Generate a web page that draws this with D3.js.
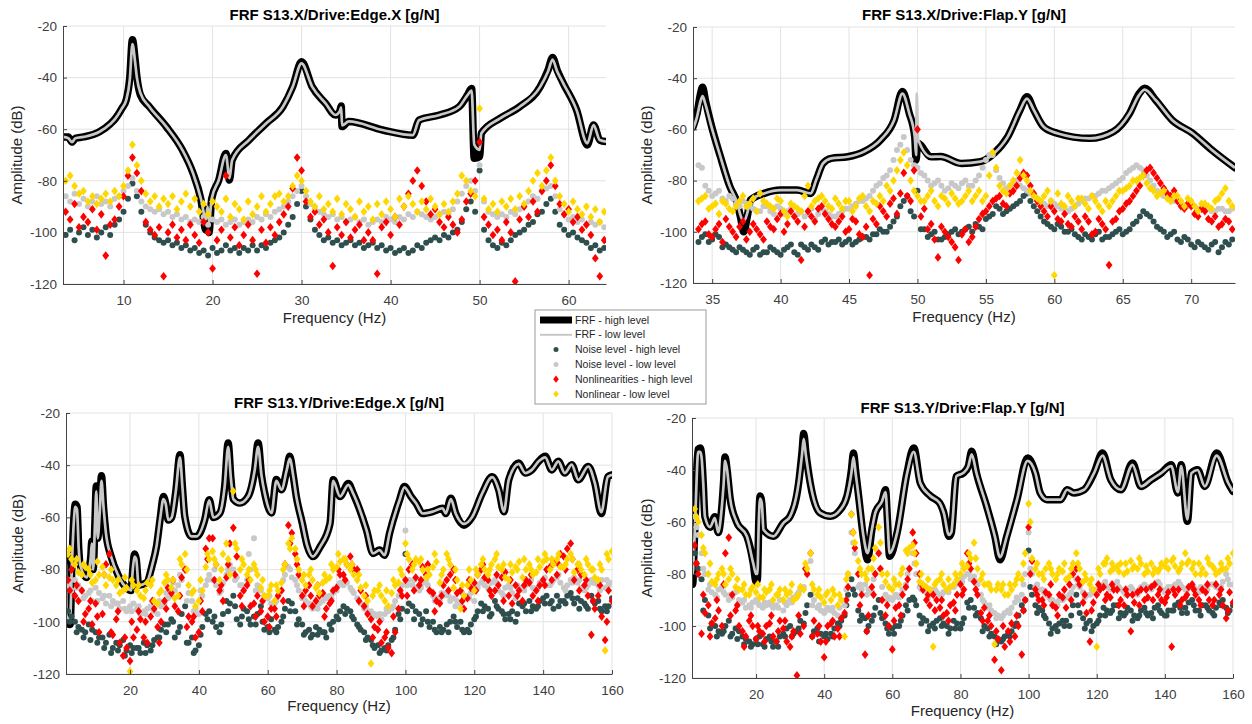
<!DOCTYPE html>
<html lang="en">
<head>
<meta charset="UTF-8">
<title>FRF S13 - noise and nonlinearities</title>
<script src="https://d3js.org/d3.v7.min.js"></script>
<style>
  body { margin: 0; background: #fff; }
  svg text { font-family: "Liberation Sans", Arial, sans-serif; }
</style>
</head>
<body>
<svg id="chart" width="1252" height="724"></svg>
<script>
// ---------------------------------------------
// DATA
// ---------------------------------------------
const titles = [
  "FRF S13.X/Drive:Edge.X [g/N]",
  "FRF S13.X/Drive:Flap.Y [g/N]",
  "FRF S13.Y/Drive:Edge.X [g/N]",
  "FRF S13.Y/Drive:Flap.Y [g/N]"
];
const yTicks = [-120, -100, -80, -60, -40, -20];
const tlTicks = [10, 20, 30, 40, 50, 60];
const trTicks = [35, 40, 45, 50, 55, 60, 65, 70];
const bTicks = [20, 40, 60, 80, 100, 120, 140, 160];

const legendLabels = [
  "FRF - high level", "FRF - low level",
  "Noise level - high level", "Noise level - low level",
  "Nonlinearities - high level", "Nonlinear - low level"
];

// --- top left: S13.X / Edge.X ---
const tlFrfHigh = [[3.2,-63],[3.8,-63],[4.2,-65],[4.6,-63.5],[5.5,-63],[7.3,-61],[8.5,-58],[9.1,-55.8],[9.8,-52],[10.3,-48.7],
  [10.7,-40],[11,-25.3],[11.3,-33],[11.5,-39.7],[11.9,-46.8],[12.9,-51.3],[14.8,-59],[16.6,-68],[17.8,-77],[18.7,-87.4],
  [19.25,-99],[19.45,-91],[19.6,-100],[19.9,-87],[20.7,-79.7],[21.5,-69.4],[21.9,-79.7],[22.2,-72],[24.1,-64.2],[26,-57.8],
  [27.9,-51.3],[29,-43.6],[30,-33.9],[31.2,-43.6],[32.7,-50],[33.8,-54.5],[34.3,-53],[34.45,-51],[34.55,-59],[35.3,-57],
  [39.1,-60.3],[42.5,-62.3],[43.2,-56.5],[45.5,-54.5],[47.7,-51.3],[48.6,-47],[49.1,-44.2],[49.4,-71.3],[50,-70.6],[50.2,-61.6],
  [52.3,-55.8],[54.5,-51.3],[56.8,-43.6],[57.7,-37],[58.2,-32.2],[58.7,-37],[59.4,-42.2],[60.9,-52.6],[62.1,-66.1],[62.8,-58.4],
  [63.5,-64.2],[64.2,-64.8]];
const tlFrfLow = [[3.2,-63],[3.8,-63.5],[4.2,-65],[4.6,-63.5],[5.5,-63],[7.3,-61],[8.5,-58],[9.1,-55.8],[9.8,-52],[10.3,-48.7],
  [10.7,-41],[11,-27],[11.3,-34],[11.5,-40],[11.9,-46],[12.9,-51.3],[14.8,-59],[16.6,-68],[17.8,-77],[18.7,-87],
  [19.25,-95],[19.45,-90],[19.6,-96],[19.9,-87],[20.7,-79.7],[21.5,-70],[21.9,-79],[22.2,-72],[24.1,-64.2],[26,-57.8],
  [27.9,-51.3],[29,-43.6],[30,-34.5],[31.2,-43.6],[32.7,-50],[33.8,-54.5],[34.3,-53],[34.45,-51.5],[34.55,-58.5],[35.3,-57],
  [39.1,-60.3],[42.5,-62.3],[43.2,-56.5],[45.5,-54.5],[47.7,-51.3],[48.6,-47],[49.1,-45],[49.4,-66],[50,-68],[50.2,-61.6],
  [52.3,-55.8],[54.5,-51.3],[56.8,-43.6],[57.7,-37.5],[58.2,-33],[58.7,-37.5],[59.4,-42.2],[60.9,-52.6],[62.1,-65.5],[62.8,-58.4],
  [63.5,-64.2],[64.2,-64.8]];
const tlFreq = [3.5,4,4.5,5,5.5,6,6.5,7,7.5,8, 8.5,9,9.5,10,10.5,11,11.5,12,12.5,13,
  13.5,14,14.5,15,15.5,16,16.5,17,17.5,18, 18.5,19,19.5,20,20.5,21,21.5,22,22.5,23,
  23.5,24,24.5,25,25.5,26,26.5,27,27.5,28, 28.5,29,29.5,30,30.5,31,31.5,32,32.5,33,
  33.5,34,34.5,35,35.5,36,36.5,37,37.5,38, 38.5,39,39.5,40,40.5,41,41.5,42,42.5,43,
  43.5,44,44.5,45,45.5,46,46.5,47,47.5,48, 48.5,49,49.5,50,50.5,51,51.5,52,52.5,53,
  53.5,54,54.5,55,55.5,56,56.5,57,57.5,58, 58.5,59,59.5,60,60.5,61,61.5,62,62.5,63, 63.5,64];
const tlNoiseHigh = [-101,-99,-103,-100,-98,-101,-99,-102,-100,-98, -101,-97,-95,-92,-87,-81,-86,-92,-97,-100,
  -102,-103,-104,-103,-105,-104,-106,-105,-107,-106, -108,-107,-109,-106,-108,-107,-105,-107,-106,-108,
  -106,-107,-105,-107,-105,-106,-104,-103,-102,-100, -97,-94,-89,-84,-90,-95,-99,-101,-103,-102,
  -104,-103,-105,-104,-103,-105,-104,-106,-105,-104, -106,-105,-107,-106,-108,-107,-106,-108,-107,-105,
  -106,-104,-103,-102,-103,-101,-102,-100,-99,-96, -91,-88,-92,-76,-99,-103,-105,-106,-104,-105,
  -103,-101,-100,-99,-97,-96,-93,-92,-89,-87, -92,-97,-99,-101,-100,-102,-103,-104,-106,-105, -107,-106];
const tlNoiseLow = [-86,-88,-85,-89,-87,-90,-88,-86,-89,-88, -90,-87,-86,-84,-82,-79,-84,-88,-90,-91,
  -92,-91,-93,-92,-94,-93,-95,-94,-96,-95, -96,-94,-97,-95,-96,-95,-97,-96,-95,-97,
  -96,-95,-96,-94,-95,-93,-94,-92,-91,-90, -88,-86,-84,-82,-86,-89,-91,-92,-93,-94,
  -93,-95,-94,-96,-95,-94,-96,-95,-97,-96, -95,-96,-94,-95,-96,-94,-95,-93,-94,-92,
  -93,-94,-95,-94,-93,-92,-93,-91,-88,-85, -82,-80,-84,-74,-88,-92,-93,-94,-93,-94,
  -92,-93,-91,-90,-88,-86,-87,-84,-83,-82, -86,-91,-93,-95,-94,-96,-95,-97,-96,-97, -96,-98];
const tlNlHigh = [-92,-95,-89,-98,-94,-96,-91,-99,-93,-109, -97,-95,-90,-86,-78,-71,-77,-84,-96,-99,
  -101,-98,-117,-100,-97,-102,-99,-103,-97,-101, -104,-96,-100,-114,-103,-99,-78,-102,-98,-105,
  -101,-97,-103,-116,-99,-104,-98,-101,-96,-93, -90,-83,-71,-76,-88,-94,-92,-97,-95,-100,
  -113,-98,-101,-96,-102,-99,-97,-103,-100,-103, -116,-98,-96,-101,-94,-97,-90,-85,-80,-76,
  -82,-88,-93,-91,-96,-98,-94,-97,-100,-95, -88,-85,-80,-65,-94,-97,-101,-99,-103,-96,
  -100,-119,-95,-90,-94,-88,-92,-84,-80,-74, -82,-89,-93,-91,-96,-94,-99,-97,-101,-110, -117,-103];
const tlNlLow = [-80,-78,-82,-85,-84,-88,-86,-89,-87,-85, -88,-84,-86,-82,-76,-66,-74,-80,-85,-88,
  -86,-90,-87,-89,-86,-91,-88,-85,-90,-87, -92,-89,-93,-88,-90,-92,-87,-94,-89,-91,
  -95,-88,-93,-90,-86,-92,-89,-86,-85,-88, -86,-82,-78,-80,-84,-88,-90,-86,-91,-89,
  -92,-87,-93,-89,-91,-94,-88,-92,-90,-95, -89,-93,-88,-91,-94,-87,-90,-86,-89,-92,
  -88,-91,-87,-90,-93,-89,-92,-88,-85,-78, -80,-84,-86,-52,-87,-91,-89,-92,-88,-90,
  -87,-91,-86,-89,-84,-80,-77,-82,-76,-71, -80,-86,-89,-92,-88,-91,-93,-90,-94,-91, -96,-92];

// --- top right: S13.X / Flap.Y ---
const trFrfHigh = [[33.6,-59],[33.9,-53.7],[34.15,-46],[34.3,-43.5],[34.5,-48.5],[34.9,-57.6],[35.6,-70.6],[36.3,-82.4],[36.8,-88.3],[37.1,-95],
  [37.3,-100],[37.6,-93],[37.8,-87.6],[38.8,-85],[40,-83.7],[41.2,-83.7],[42.2,-85],[42.6,-79.8],[43.1,-73.3],[43.7,-71.3],
  [44.9,-70.7],[46.1,-68.7],[47.3,-64.1],[48.3,-56.3],[48.9,-45.2],[49.4,-53.7],[49.8,-62.8],[49.9,-72],[50,-65.4],[51,-70.7],
  [51.7,-70.6],[53.2,-73.3],[54.6,-72.6],[55.6,-69.3],[56.6,-62.8],[57.5,-52.4],[58,-47.2],[58.5,-52.4],[59.2,-58.9],[60.2,-61.5],
  [62.6,-63.5],[64.3,-60.9],[65.5,-53.7],[66.2,-46],[66.6,-43.9],[67.4,-48.5],[68.6,-56.3],[70.1,-61.5],[71.5,-68],[73.2,-75]];
const trFrfLow = [[33.6,-60],[33.9,-55],[34.15,-49],[34.3,-47],[34.5,-50],[34.9,-58],[35.6,-70.6],[36.3,-82.4],[36.8,-88.3],[37.1,-94],
  [37.3,-96],[37.6,-92],[37.8,-87.6],[38.8,-85],[40,-83.7],[41.2,-83.7],[42.2,-85],[42.6,-79.8],[43.1,-73.3],[43.7,-71.3],
  [44.9,-70.7],[46.1,-68.7],[47.3,-64.1],[48.3,-56.3],[48.9,-46],[49.4,-53.7],[49.8,-62.8],[49.9,-70],[49.95,-46],[50.05,-64],
  [51,-70.7],[51.7,-70.6],[53.2,-73.3],[54.6,-72.6],[55.6,-69.3],[56.6,-62.8],[57.5,-52.4],[58,-48],[58.5,-52.4],[59.2,-58.9],
  [60.2,-61.5],[62.6,-63.5],[64.3,-60.9],[65.5,-53.7],[66.2,-46.5],[66.6,-44.5],[67.4,-48.5],[68.6,-56.3],[70.1,-61.5],[71.5,-68],[73.2,-75]];
const trFreq = [34,34.5,35,35.5,36,36.5,37,37.5,38,38.5, 39,39.5,40,40.5,41,41.5,42,42.5,43,43.5,
  44,44.5,45,45.5,46,46.5,47,47.5,48,48.5, 49,49.5,50,50.5,51,51.5,52,52.5,53,53.5,
  54,54.5,55,55.5,56,56.5,57,57.5,58,58.5, 59,59.5,60,60.5,61,61.5,62,62.5,63,63.5,
  64,64.5,65,65.5,66,66.5,67,67.5,68,68.5, 69,69.5,70,70.5,71,71.5,72,72.5,73];
const trNoiseHigh = [-104,-101,-103,-102,-105,-107,-106,-108,-107,-109, -108,-107,-109,-106,-108,-105,-107,-106,-104,-105,
  -104,-105,-103,-104,-102,-103,-101,-100,-98,-94, -88,-92,-84,-99,-101,-103,-102,-100,-101,-99,
  -100,-98,-95,-93,-91,-92,-90,-88,-85,-90, -94,-97,-99,-98,-100,-101,-103,-102,-101,-103,
  -102,-100,-101,-99,-96,-92,-94,-98,-100,-101, -103,-102,-105,-104,-106,-105,-108,-104,-103];
const trNoiseLow = [-74,-82,-86,-84,-88,-87,-90,-89,-91,-92, -90,-93,-91,-92,-94,-92,-93,-95,-91,-93,
  -94,-92,-91,-89,-88,-86,-82,-79,-76,-68, -63,-72,-75,-78,-82,-80,-84,-81,-83,-80,
  -82,-78,-72,-70,-79,-83,-81,-82,-84,-86, -88,-90,-89,-91,-92,-90,-88,-87,-86,-84,
  -83,-81,-79,-76,-74,-76,-80,-84,-86,-87, -88,-90,-89,-91,-90,-92,-91,-92,-91];
const trNlHigh = [-99,-96,-102,-97,-95,-100,-98,-103,-97,-101, -96,-99,-93,-97,-94,-111,-92,-96,-90,-95,
  -98,-94,-99,-96,-102,-117,-97,-92,-89,-93, -77,-88,-60,-91,-97,-110,-100,-104,-111,-99,
  -102,-95,-92,-88,-86,-90,-84,-79,-78,-85, -90,-94,-92,-96,-97,-94,-99,-96,-100,-97,
  -113,-95,-91,-88,-84,-78,-75,-79,-83,-86, -88,-91,-90,-94,-92,-96,-98,-95,-99];
const trNlLow = [-88,-86,-90,-93,-89,-92,-88,-90,-87,-85, -89,-91,-88,-94,-90,-92,-82,-88,-86,-90,
  -87,-91,-88,-90,-86,-92,-89,-88,-84,-76, -69,-80,-86,-88,-84,-90,-87,-85,-89,-86,
  -88,-84,-86,-69,-82,-85,-80,-72,-80,-86, -88,-84,-117,-89,-86,-90,-87,-91,-88,-92,
  -90,-86,-84,-82,-80,-78,-83,-86,-84,-88, -86,-90,-88,-92,-89,-91,-87,-83,-90];
// in-between bins of the top right panel
const trFreqMid = [34.25,34.75,35.25,35.75,36.25,36.75,37.25,37.75,38.25,38.75, 39.25,39.75,40.25,40.75,41.25,41.75,42.25,42.75,43.25,43.75,
  44.25,44.75,45.25,45.75,46.25,46.75,47.25,47.75,48.25,48.75, 49.25,49.75,50.25,50.75,51.25,51.75,52.25,52.75,53.25,53.75,
  54.25,54.75,55.25,55.75,56.25,56.75,57.25,57.75,58.25,58.75, 59.25,59.75,60.25,60.75,61.25,61.75,62.25,62.75,63.25,63.75,
  64.25,64.75,65.25,65.75,66.25,66.75,67.25,67.75,68.25,68.75, 69.25,69.75,70.25,70.75,71.25,71.75,72.25,72.75];
const trNoiseHighMid = [-102,-104,-101,-106,-106,-108,-107,-109,-106,-108, -106,-108,-107,-105,-109,-106,-105,-107,-103,-104,
  -103,-104,-105,-103,-102,-101,-99,-100,-96,-90, -86,-94,-99,-102,-100,-103,-101,-99,-100,-98,
  -97,-99,-94,-90,-93,-91,-89,-86,-88,-92, -96,-98,-97,-100,-99,-102,-101,-103,-100,-102,
  -101,-99,-100,-97,-94,-93,-96,-99,-102,-100, -104,-103,-106,-105,-107,-104,-106,-105];
const trNoiseLowMid = [-75,-84,-85,-87,-86,-89,-88,-90,-92,-90, -92,-90,-93,-91,-93,-94,-91,-93,-92,-94,
  -93,-91,-90,-88,-87,-84,-81,-78,-72,-66, -68,-74,-77,-80,-81,-82,-83,-82,-81,-82,
  -80,-75,-70,-76,-81,-82,-80,-83,-85,-87, -89,-88,-90,-91,-91,-89,-87,-86,-85,-84,
  -82,-80,-77,-75,-75,-78,-82,-85,-86,-88, -89,-90,-90,-91,-91,-92,-91,-92];
const trNlHighMid = [-97,-101,-99,-104,-98,-102,-96,-100,-99,-103, -98,-95,-100,-92,-96,-98,-94,-91,-93,-97,
  -96,-100,-95,-101,-98,-95,-90,-94,-87,-85, -86,-76,-94,-99,-103,-98,-102,-106,-101,-104,
  -98,-93,-90,-87,-89,-85,-82,-77,-82,-88, -92,-90,-95,-93,-98,-96,-94,-101,-95,-99,
  -96,-92,-89,-86,-82,-76,-77,-81,-85,-84, -90,-89,-93,-91,-95,-94,-97,-96];
const trNlLowMid = [-87,-91,-89,-88,-91,-90,-86,-89,-92,-88, -90,-87,-92,-89,-91,-86,-90,-87,-88,-91,
  -89,-88,-92,-87,-90,-88,-86,-82,-80,-72, -74,-84,-88,-86,-88,-86,-89,-87,-88,-84,
  -86,-88,-78,-75,-84,-82,-77,-78,-84,-87, -86,-88,-85,-90,-88,-87,-89,-86,-90,-88,
  -88,-84,-83,-80,-79,-81,-84,-85,-87,-86, -88,-87,-90,-89,-90,-88,-85,-88];

// --- bottom panels share their bin lists ---
const bFreq = [2,4,6,8,10,12,14,16,18,20, 22,24,26,28,30,32,34,36,38,40,
  42,44,46,48,50,52,54,56,58,60, 62,64,66,68,70,72,74,76,78,80,
  82,84,86,88,90,92,94,96,98,100, 102,104,106,108,110,112,114,116,118,120,
  122,124,126,128,130,132,134,136,138,140, 142,144,146,148,150,152,154,156,158,160];
const bFreqOdd = [3,5,7,9,11,13,15,17,19,21, 23,25,27,29,31,33,35,37,39,41,
  43,45,47,49,51,53,55,57,59,61, 63,65,67,69,71,73,75,77,79,81,
  83,85,87,89,91,93,95,97,99,101, 103,105,107,109,111,113,115,117,119,121,
  123,125,127,129,131,133,135,137,139,141, 143,145,147,149,151,153,155,157,159];
const bFreqHalf = [2.5,4.5,6.5,8.5,10.5,12.5,14.5,16.5,18.5,20.5, 22.5,24.5,26.5,28.5,30.5,32.5,34.5,36.5,38.5,40.5,
  42.5,44.5,46.5,48.5,50.5,52.5,54.5,56.5,58.5,60.5, 62.5,64.5,66.5,68.5,70.5,72.5,74.5,76.5,78.5,80.5,
  82.5,84.5,86.5,88.5,90.5,92.5,94.5,96.5,98.5,100.5, 102.5,104.5,106.5,108.5,110.5,112.5,114.5,116.5,118.5,120.5,
  122.5,124.5,126.5,128.5,130.5,132.5,134.5,136.5,138.5,140.5, 142.5,144.5,146.5,148.5,150.5,152.5,154.5,156.5,158.5];

// --- bottom left: S13.Y / Edge.X ---
const blFrfHigh = [[1.4,-76],[1.6,-100],[2.6,-101],[3.1,-79],[3.7,-60],[4.1,-55],[4.6,-56],[5.1,-72],[5.5,-78],[7.4,-83],
  [8.6,-75],[8.9,-69],[9.3,-80],[9.8,-62],[10.2,-48],[10.6,-68],[11.2,-58],[11.7,-44],[12.3,-56],[13,-66],
  [14.5,-75],[16.5,-82],[19,-87],[20.3,-88],[20.8,-80],[21.3,-74],[21.8,-76],[22.5,-86],[24.8,-85],[26.5,-78],
  [27.7,-71],[28.8,-60],[29.7,-52],[30.4,-55],[31.1,-61],[32.1,-60],[33.3,-50],[34.5,-36],[35.2,-48],[35.9,-59.6],
  [37.9,-67.3],[39.3,-67.3],[41.7,-60.9],[43,-53.2],[44.2,-60],[46.1,-58.3],[47.5,-48],[48.5,-31.5],[49.3,-45],[50,-53],
  [51.9,-54.5],[54.3,-52],[56.2,-42],[57.2,-31.5],[58.2,-44],[59.1,-50.6],[61.1,-58.3],[62.5,-45.5],[64,-49.4],[65.5,-42],
  [66.4,-36.6],[67.4,-44],[68.3,-52],[70,-62],[71.5,-71],[73.1,-75],[75.2,-71.3],[78.1,-62.3],[79,-45.6],[81,-52],
  [83.4,-47],[84.8,-50.8],[88.7,-64.9],[90.6,-73.8],[92.5,-72.5],[93.9,-74.5],[95.4,-66],[98.3,-53.3],[99.7,-48.2],[101.6,-52],
  [103.1,-54.6],[105,-58.5],[107.9,-57.8],[110.8,-56.5],[111.7,-58.5],[113.2,-52.7],[114.6,-58.5],[117,-63],[119.4,-59.8],[122.3,-50.8],
  [125.2,-44.4],[127.1,-49.5],[128.6,-57.8],[130,-45.6],[132.9,-39.2],[134.8,-43],[136.7,-41.8],[138.7,-38.5],[140.6,-36.6],[142.5,-41.8],
  [144.4,-38.5],[146.3,-43],[148.3,-39.8],[150.2,-45.6],[153.1,-40.5],[155,-46.8],[156.9,-58.5],[158.8,-44.4],[160,-43.7]];
const blFrfLow = [[1.4,-78],[1.6,-98],[2.6,-99],[3.1,-79],[3.7,-61],[4.1,-56],[4.6,-57],[5.1,-72],[5.5,-78],[7.4,-83],
  [8.6,-75],[8.9,-70],[9.3,-80],[9.8,-63],[10.2,-50],[10.6,-68],[11.2,-58],[11.7,-46],[12.3,-56],[13,-66],
  [14.5,-75],[16.5,-82],[19,-87],[20.3,-88],[20.8,-80],[21.3,-75],[21.8,-76],[22.5,-86],[24.8,-85],[26.5,-78],
  [27.7,-71],[28.8,-60],[29.7,-53],[30.4,-55],[31.1,-61],[32.1,-60],[33.3,-50],[34.5,-37],[35.2,-48],[35.9,-59.6],
  [37.9,-67.3],[39.3,-67.3],[41.7,-60.9],[43,-53.5],[44.2,-60],[46.1,-58.3],[47.5,-48],[48.5,-33],[49.3,-45],[50,-53],
  [51.9,-54.5],[54.3,-52],[56.2,-42],[57.2,-33],[58.2,-44],[59.1,-50.6],[61.1,-58.3],[62.5,-46],[64,-49.4],[65.5,-42],
  [66.4,-37.5],[67.4,-44],[68.3,-52],[70,-62],[71.5,-71],[73.1,-75],[75.2,-71.3],[78.1,-62.3],[79,-46],[81,-52],
  [83.4,-47.5],[84.8,-50.8],[88.7,-64.9],[90.6,-73.8],[92.5,-72.5],[93.9,-74.5],[95.4,-66],[98.3,-53.3],[99.7,-48.5],[101.6,-52],
  [103.1,-54.6],[105,-58.5],[107.9,-57.8],[110.8,-56.5],[111.7,-58.5],[113.2,-53],[114.6,-58.5],[117,-62.5],[119.4,-59.8],[122.3,-50.8],
  [125.2,-44.6],[127.1,-49.5],[128.6,-57.8],[130,-45.6],[132.9,-39.5],[134.8,-43],[136.7,-41.8],[138.7,-38.5],[140.6,-37],[142.5,-41.8],
  [144.4,-38.5],[146.3,-43],[148.3,-39.8],[150.2,-45.6],[153.1,-40.5],[155,-46.8],[156.9,-58],[158.8,-44.4],[160,-43.7]];
const blNoiseHigh = [-96,-100,-103,-101,-104,-106,-105,-108,-107,-109, -110,-108,-111,-106,-101,-99,-104,-94,-106,-109,
  -97,-100,-104,-92,-90,-101,-96,-98,-94,-102, -103,-100,-92,-96,-101,-103,-102,-104,-101,-98,
  -94,-96,-101,-104,-107,-109,-110,-107,-97,-74, -94,-97,-96,-100,-102,-101,-98,-100,-103,-99,
  -93,-95,-92,-96,-97,-100,-94,-92,-95,-91, -93,-90,-92,-89,-91,-93,-90,-92,-94,-91];
const blNoiseLow = [-86,-84,-88,-89,-87,-91,-90,-93,-92,-94, -95,-96,-94,-97,-93,-90,-86,-80,-92,-97,
  -86,-84,-89,-82,-80,-86,-84,-68,-88,-91, -93,-88,-79,-84,-91,-93,-94,-92,-90,-88,
  -86,-87,-91,-95,-96,-98,-97,-95,-90,-65, -86,-88,-84,-90,-92,-89,-91,-93,-90,-92,
  -85,-87,-84,-89,-86,-91,-87,-85,-88,-84, -86,-83,-87,-84,-85,-88,-84,-86,-87,-85];
const blNlHigh = [-84,-90,-88,-95,-93,-97,-74,-99,-113,-115, -103,-106,-98,-102,-92,-89,-96,-80,-100,-104,
  -72,-68,-88,-83,-64,-90,-86,-93,-96,-98, -95,-88,-63,-74,-90,-86,-92,-89,-93,-87,
  -82,-75,-80,-94,-99,-103,-106,-112,-95,-84, -78,-86,-82,-89,-93,-84,-80,-88,-91,-85,
  -80,-84,-88,-83,-90,-86,-92,-85,-88,-84, -79,-82,-75,-70,-80,-86,-105,-90,-107,-92];
const blNlLow = [-74,-78,-82,-80,-84,-79,-83,-86,-88,-119, -88,-91,-86,-93,-85,-87,-90,-74,-89,-92,
  -79,-73,-84,-70,-50,-80,-82,-78,-87,-90, -92,-85,-70,-72,-84,-82,-87,-85,-83,-79,
  -76,-80,-84,-90,-116,-88,-92,-89,-85,-70, -80,-77,-83,-79,-85,-74,-87,-95,-86,-88,
  -78,-82,-76,-80,-84,-79,-83,-78,-81,-77, -80,-76,-79,-74,-78,-82,-80,-84,-111,-73];
const blNoiseHighOdd = [-98,-102,-104,-103,-106,-108,-110,-109,-111,-110, -112,-109,-107,-103,-101,-106,-97,-108,-111,-102,
  -96,-102,-97,-93,-99,-95,-101,-97,-103,-99, -102,-95,-93,-99,-104,-105,-103,-106,-100,-96,
  -95,-99,-103,-106,-110,-111,-109,-103,-95,-93, -96,-99,-102,-104,-103,-100,-102,-104,-101,-96,
  -94,-97,-95,-99,-96,-93,-96,-94,-92,-90, -95,-92,-90,-93,-92,-95,-93,-96,-94];
const blNoiseLowOdd = [-88,-86,-90,-92,-89,-93,-92,-95,-96,-93, -97,-95,-96,-94,-91,-88,-84,-89,-95,-90,
  -82,-86,-85,-78,-83,-88,-80,-86,-90,-93, -90,-82,-83,-88,-92,-95,-93,-91,-89,-85,
  -85,-89,-93,-96,-97,-99,-96,-92,-86,-84, -87,-85,-88,-91,-90,-92,-92,-91,-89,-87,
  -86,-85,-88,-87,-89,-88,-86,-87,-85,-86, -84,-85,-86,-83,-87,-86,-85,-84,-86];
const blNlHighOdd = [-80,-92,-97,-101,-104,-78,-105,-108,-110,-106, -99,-108,-95,-100,-87,-94,-83,-98,-106,-96,
  -68,-78,-92,-70,-75,-88,-94,-90,-100,-95, -90,-78,-66,-82,-88,-94,-90,-95,-88,-82,
  -78,-80,-88,-97,-102,-108,-110,-104,-90,-80, -83,-79,-88,-92,-86,-82,-89,-95,-87,-82,
  -83,-90,-86,-81,-93,-88,-84,-90,-86,-80, -77,-74,-72,-84,-82,-90,-95,-98,-88];
const blNlLowOdd = [-76,-81,-79,-85,-82,-86,-84,-89,-87,-86, -90,-85,-92,-88,-84,-91,-78,-86,-94,-88,
  -76,-78,-74,-82,-72,-78,-84,-82,-90,-86, -88,-78,-68,-80,-86,-84,-89,-84,-80,-77,
  -78,-82,-87,-92,-88,-90,-94,-86,-82,-76, -76,-80,-82,-77,-80,-78,-84,-90,-84,-82,
  -80,-78,-79,-83,-81,-77,-80,-82,-79,-76, -78,-79,-76,-81,-80,-78,-83,-80,-76];
const blNoiseHighHalf = [-100,-104,-106,-107,-108,-110,-112,-111,-113,-112, -110,-112,-109,-106,-104,-100,-102,-108,-112,-105,
  -99,-98,-101,-96,-94,-98,-99,-101,-100,-104, -104,-98,-96,-101,-105,-106,-105,-104,-103,-99,
  -97,-98,-102,-107,-109,-112,-111,-106,-99,-96, -99,-101,-100,-103,-104,-104,-100,-103,-104,-98,
  -96,-98,-94,-97,-99,-97,-93,-96,-94,-93, -92,-94,-93,-91,-95,-94,-92,-95,-96];
const blNoiseLowHalf = [-84,-87,-91,-88,-92,-90,-94,-93,-95,-96, -94,-97,-95,-92,-89,-85,-82,-92,-96,-88,
  -84,-80,-88,-80,-84,-86,-74,-88,-92,-90, -92,-84,-80,-86,-90,-94,-95,-90,-91,-86,
  -84,-88,-92,-94,-98,-97,-95,-94,-88,-86, -84,-87,-86,-92,-89,-90,-94,-89,-91,-86,
  -84,-88,-85,-90,-87,-86,-88,-84,-87,-83, -85,-82,-88,-85,-84,-87,-85,-88,-84];
const blNlHighHalf = [-88,-86,-100,-92,-98,-82,-104,-96,-106,-100, -96,-100,-92,-108,-95,-84,-90,-102,-98,-92,
  -76,-84,-86,-78,-82,-94,-84,-98,-92,-102, -98,-92,-70,-78,-94,-90,-86,-98,-92,-80,
  -84,-78,-92,-90,-106,-100,-104,-98,-88,-90, -88,-84,-78,-96,-90,-88,-84,-92,-84,-88,
  -78,-88,-82,-92,-84,-90,-86,-82,-92,-86, -84,-78,-80,-76,-88,-84,-92,-86,-100];
const blNlLowHalf = [-72,-76,-78,-82,-77,-82,-80,-84,-83,-84, -86,-88,-84,-89,-82,-84,-76,-80,-88,-84,
  -74,-76,-80,-76,-70,-76,-80,-80,-84,-88, -86,-80,-72,-76,-82,-80,-86,-82,-78,-74,
  -76,-78,-82,-86,-90,-86,-88,-84,-80,-74, -78,-76,-80,-74,-82,-76,-80,-86,-80,-80,
  -76,-80,-74,-78,-78,-80,-76,-80,-76,-74, -76,-74,-78,-76,-78,-76,-80,-78,-74];

// --- bottom right: S13.Y / Flap.Y ---
const brFrfHigh = [[1.2,-78],[1.4,-84],[1.8,-70],[2.1,-60],[2.6,-40],[3,-32],[3.6,-31.5],[4,-34],[4.5,-45],[5,-58],
  [6.5,-62],[7.9,-58],[8.9,-64],[9.9,-55],[10.5,-44],[10.9,-35],[11.5,-40],[12.4,-51],[14.3,-60],[17.3,-65.5],
  [19.2,-76],[20,-83],[20.4,-82],[20.8,-60],[21.2,-50],[21.7,-53],[22.2,-63],[25.1,-65.5],[28,-60.4],[30,-57.8],
  [32.5,-45],[33.5,-33],[34,-26],[34.6,-33],[35.9,-45],[38.8,-56.5],[41.8,-57.8],[44.7,-55.3],[46.7,-50],[48,-40],
  [48.6,-33.5],[49.2,-40],[50.1,-50],[51.6,-66.8],[52.7,-74.5],[54,-63],[55,-56.5],[57,-52],[58,-47.6],[58.6,-60],
  [59.2,-73.2],[61.4,-64.2],[64.3,-41.2],[66.3,-31.5],[68.2,-45],[71.2,-50],[73.9,-52.7],[75.1,-56.5],[76.6,-65.5],[77.3,-64.2],
  [78.8,-42.4],[80.8,-41.2],[82.3,-38.6],[83.3,-32.8],[84.7,-41.2],[87.7,-54],[90.1,-65.5],[91.6,-74.5],[93.6,-65.5],[96.6,-51.4],
  [99.7,-35.4],[102,-41.2],[103.4,-48.8],[105.4,-51.4],[109.4,-51.4],[111.3,-47.6],[113.3,-48.8],[116.3,-47.6],[119.2,-41.2],[121.7,-33.5],
  [124.1,-43.7],[127.1,-47.6],[130.5,-37.3],[133,-46.3],[136,-43.7],[138.9,-41.2],[141.9,-38],[143.8,-48.8],[144.8,-38],[146.6,-59.7],
  [147.8,-41.2],[149.6,-39.9],[151.7,-46.3],[155.2,-33.5],[158.6,-45],[160,-48.2]];
const brFrfLow = [[1.2,-76],[1.4,-80],[1.8,-70],[2.1,-61],[2.6,-42],[3,-33],[3.6,-33],[4,-35],[4.5,-45],[5,-58],
  [6.5,-62],[7.9,-58.5],[8.9,-64],[9.9,-55],[10.5,-45],[10.9,-36.5],[11.5,-40],[12.4,-51],[14.3,-60],[17.3,-65.5],
  [19.2,-76],[20,-80],[20.4,-80],[20.8,-60],[21.2,-51],[21.7,-53],[22.2,-63],[25.1,-65.5],[28,-60.4],[30,-57.8],
  [32.5,-45],[33.5,-34],[34,-28],[34.6,-34],[35.9,-45],[38.8,-56.5],[41.8,-57.8],[44.7,-55.3],[46.7,-50],[48,-41],
  [48.6,-35],[49.2,-41],[50.1,-50],[51.6,-66],[52.7,-72],[54,-63],[55,-56.5],[57,-52],[58,-48.5],[58.6,-60],
  [59.2,-72],[61.4,-64.2],[64.3,-41.5],[66.3,-33],[68.2,-45],[71.2,-50],[73.9,-52.7],[75.1,-56.5],[76.6,-65],[77.3,-64],
  [78.8,-42.4],[80.8,-41.2],[82.3,-38.6],[83.3,-34],[84.7,-41.2],[87.7,-54],[90.1,-65.5],[91.6,-73.5],[93.6,-65.5],[96.6,-51.4],
  [99.7,-36.5],[102,-41.2],[103.4,-48.8],[105.4,-51.4],[109.4,-51.4],[111.3,-47.6],[113.3,-48.8],[116.3,-47.6],[119.2,-41.2],[121.7,-34.5],
  [124.1,-43.7],[127.1,-47.6],[130.5,-38],[133,-46.3],[136,-43.7],[138.9,-41.2],[141.9,-38.5],[143.8,-48.5],[144.8,-38.5],[146.6,-59],
  [147.8,-41.2],[149.6,-40],[151.7,-46.3],[155.2,-34.5],[158.6,-45],[160,-48.2]];
const brNoiseHigh = [-72,-82,-96,-100,-103,-98,-101,-104,-106,-105, -107,-104,-106,-103,-100,-102,-99,-88,-101,-104,
  -103,-99,-96,-82,-94,-97,-98,-90,-99,-101, -100,-92,-89,-96,-98,-99,-97,-100,-98,-101,
  -91,-93,-97,-101,-104,-106,-103,-100,-92,-71, -92,-94,-99,-100,-98,-100,-88,-97,-98,-99,
  -93,-95,-92,-96,-94,-97,-93,-95,-92,-96, -94,-91,-93,-90,-94,-92,-95,-91,-93,-92];
const brNoiseLow = [-58,-72,-86,-88,-85,-90,-87,-91,-92,-90, -93,-91,-92,-94,-90,-88,-85,-75,-93,-95,
  -94,-96,-92,-64,-85,-84,-87,-72,-88,-90, -89,-84,-72,-85,-87,-86,-88,-86,-85,-82,
  -80,-81,-88,-93,-95,-97,-94,-91,-88,-64, -85,-86,-89,-91,-90,-88,-82,-87,-88,-86,
  -84,-86,-83,-87,-85,-88,-84,-86,-83,-87, -85,-83,-86,-84,-87,-85,-84,-86,-80,-84];
const brNlHigh = [-69,-103,-92,-97,-100,-66,-94,-102,-98,-105, -103,-99,-106,-101,-108,-119,-100,-72,-103,-112,
  -99,-101,-95,-57,-80,-111,-85,-72,-96,-109, -92,-85,-64,-80,-90,-88,-93,-95,-91,-84,
  -72,-83,-95,-98,-113,-117,-102,-104,-111,-62, -86,-90,-88,-93,-89,-84,-78,-91,-106,-88,
  -85,-89,-86,-92,-102,-87,-90,-85,-88,-91, -108,-86,-89,-84,-90,-87,-92,-88,-97,-91];
const brNlLow = [-55,-65,-80,-84,-78,-82,-85,-86,-88,-87, -89,-86,-88,-90,-87,-89,-86,-72,-88,-91,
  -90,-92,-104,-57,-75,-80,-78,-62,-83,-86, -84,-71,-69,-83,-85,-108,-82,-86,-84,-80,
  -77,-68,-82,-84,-107,-86,-88,-84,-82,-53, -78,-80,-76,-82,-79,-81,-72,-83,-84,-108,
  -76,-79,-77,-80,-75,-78,-80,-76,-79,-77, -75,-79,-72,-78,-76,-80,-77,-79,-78,-72];
const brNoiseHighOdd = [-78,-90,-99,-102,-100,-103,-102,-105,-107,-104, -105,-108,-104,-101,-103,-98,-92,-102,-103,-105,
  -101,-98,-88,-88,-96,-100,-93,-97,-103,-100, -96,-90,-92,-97,-100,-98,-99,-101,-99,-97,
  -90,-95,-100,-103,-105,-104,-102,-96,-90,-88, -93,-97,-101,-99,-98,-92,-95,-99,-100,-96,
  -94,-92,-95,-93,-96,-94,-96,-93,-95,-94, -92,-95,-91,-94,-92,-94,-93,-90,-94];
const brNoiseLowOdd = [-65,-80,-87,-86,-88,-89,-90,-93,-91,-92, -92,-93,-90,-92,-89,-86,-80,-90,-94,-93,
  -95,-90,-80,-72,-86,-86,-80,-85,-89,-88, -86,-78,-80,-86,-88,-87,-87,-85,-83,-81,
  -82,-84,-91,-94,-96,-95,-93,-90,-80,-80, -86,-88,-90,-90,-89,-85,-85,-88,-87,-85,
  -85,-84,-86,-86,-87,-85,-85,-84,-86,-85, -84,-85,-85,-86,-86,-84,-85,-83,-84];
const brNlHighOdd = [-80,-95,-99,-94,-72,-88,-100,-104,-100,-102, -100,-104,-98,-106,-102,-103,-80,-98,-106,-100,
  -104,-97,-85,-70,-88,-96,-80,-90,-100,-93, -88,-78,-72,-86,-92,-90,-96,-92,-88,-86,
  -78,-88,-93,-100,-105,-108,-99,-100,-90,-75, -90,-87,-92,-88,-93,-80,-84,-95,-91,-86,
  -88,-86,-90,-88,-91,-86,-89,-84,-90,-87, -88,-90,-85,-88,-86,-90,-84,-92,-87];
const brNlLowOdd = [-60,-72,-83,-80,-84,-80,-86,-88,-85,-89, -87,-90,-86,-88,-90,-85,-78,-86,-89,-87,
  -88,-90,-80,-68,-80,-78,-70,-80,-85,-84, -78,-70,-76,-84,-86,-83,-84,-85,-82,-78,
  -74,-78,-84,-86,-84,-88,-86,-80,-72,-74, -80,-78,-80,-78,-82,-76,-78,-82,-86,-80,
  -74,-78,-76,-79,-77,-76,-79,-78,-76,-78, -77,-76,-75,-80,-78,-76,-80,-78,-76];
const brNoiseHighHalf = [-76,-94,-101,-104,-102,-104,-105,-107,-108,-107, -108,-106,-108,-104,-104,-101,-95,-104,-106,-103,
  -104,-100,-92,-86,-98,-102,-96,-95,-101,-103, -98,-94,-90,-99,-102,-101,-100,-103,-101,-99,
  -93,-96,-102,-104,-107,-105,-104,-99,-94,-85, -95,-96,-103,-102,-100,-96,-92,-101,-102,-98,
  -96,-94,-97,-95,-98,-96,-95,-97,-94,-96, -94,-93,-95,-92,-96,-93,-96,-92,-95];
const brNoiseLowHalf = [-62,-78,-84,-89,-87,-88,-92,-90,-93,-91, -91,-92,-93,-91,-91,-87,-78,-92,-92,-94,
  -93,-93,-86,-68,-84,-88,-82,-78,-90,-89, -88,-80,-76,-86,-89,-86,-88,-87,-84,-83,
  -80,-83,-90,-92,-97,-96,-95,-89,-84,-78, -84,-87,-90,-92,-89,-87,-84,-89,-86,-86,
  -83,-85,-85,-88,-86,-86,-85,-85,-84,-86, -85,-84,-86,-85,-85,-86,-84,-85,-82];
const brNlHighHalf = [-76,-88,-104,-90,-84,-96,-92,-108,-96,-100, -106,-96,-102,-98,-104,-96,-78,-104,-100,-106,
  -98,-104,-90,-64,-92,-102,-88,-78,-92,-98, -96,-82,-68,-84,-88,-94,-90,-98,-94,-88,
  -76,-86,-98,-96,-102,-100,-106,-96,-94,-80, -88,-92,-84,-96,-86,-90,-82,-88,-94,-84,
  -90,-84,-92,-86,-88,-92,-86,-90,-86,-89, -86,-92,-88,-86,-92,-84,-90,-86,-94];
const brNlLowHalf = [-58,-70,-76,-82,-80,-78,-82,-84,-86,-84, -86,-84,-88,-86,-84,-88,-76,-84,-86,-88,
  -86,-88,-82,-64,-78,-82,-74,-68,-80,-82, -80,-72,-72,-80,-82,-84,-80,-82,-80,-76,
  -72,-74,-80,-84,-86,-84,-84,-82,-76,-60, -76,-82,-78,-80,-76,-78,-76,-80,-82,-78,
  -76,-76,-79,-76,-78,-74,-77,-80,-78,-75, -74,-78,-76,-76,-80,-74,-78,-76,-74];

// ---------------------------------------------
// LAYOUT
// ---------------------------------------------
const layout = [
  { left: 63, right: 606, top: 26, bottom: 284, xDomain: [3.2, 64.2], titleY: 20, xLabelY: 323, yLabelX: 17 },
  { left: 693, right: 1235, top: 27, bottom: 283, xDomain: [33.6, 73.2], titleY: 20, xLabelY: 322, yLabelX: 647 },
  { left: 66, right: 612, top: 413, bottom: 674, xDomain: [1.4, 160], titleY: 408, xLabelY: 711, yLabelX: 18 },
  { left: 692, right: 1233, top: 418, bottom: 678, xDomain: [1.2, 160], titleY: 413, xLabelY: 716, yLabelX: 647 }
];

// each scatter series is a list of [frequency bins, values] pairs
const panels = [
  { title: titles[0], xTicks: tlTicks, frfHigh: tlFrfHigh, frfLow: tlFrfLow,
    noiseHigh: [[tlFreq, tlNoiseHigh]], noiseLow: [[tlFreq, tlNoiseLow]],
    nlHigh: [[tlFreq, tlNlHigh]], nlLow: [[tlFreq, tlNlLow]] },
  { title: titles[1], xTicks: trTicks, frfHigh: trFrfHigh, frfLow: trFrfLow,
    noiseHigh: [[trFreq, trNoiseHigh], [trFreqMid, trNoiseHighMid]],
    noiseLow: [[trFreq, trNoiseLow], [trFreqMid, trNoiseLowMid]],
    nlHigh: [[trFreq, trNlHigh], [trFreqMid, trNlHighMid]],
    nlLow: [[trFreq, trNlLow], [trFreqMid, trNlLowMid]] },
  { title: titles[2], xTicks: bTicks, frfHigh: blFrfHigh, frfLow: blFrfLow,
    noiseHigh: [[bFreq, blNoiseHigh], [bFreqOdd, blNoiseHighOdd], [bFreqHalf, blNoiseHighHalf]],
    noiseLow: [[bFreq, blNoiseLow], [bFreqOdd, blNoiseLowOdd], [bFreqHalf, blNoiseLowHalf]],
    nlHigh: [[bFreq, blNlHigh], [bFreqOdd, blNlHighOdd], [bFreqHalf, blNlHighHalf]],
    nlLow: [[bFreq, blNlLow], [bFreqOdd, blNlLowOdd], [bFreqHalf, blNlLowHalf]] },
  { title: titles[3], xTicks: bTicks, frfHigh: brFrfHigh, frfLow: brFrfLow,
    noiseHigh: [[bFreq, brNoiseHigh], [bFreqOdd, brNoiseHighOdd], [bFreqHalf, brNoiseHighHalf]],
    noiseLow: [[bFreq, brNoiseLow], [bFreqOdd, brNoiseLowOdd], [bFreqHalf, brNoiseLowHalf]],
    nlHigh: [[bFreq, brNlHigh], [bFreqOdd, brNlHighOdd], [bFreqHalf, brNlHighHalf]],
    nlLow: [[bFreq, brNlLow], [bFreqOdd, brNlLowOdd], [bFreqHalf, brNlLowHalf]] }
];

const colors = {
  frfHigh: "#000000", frfLow: "#c8c8c8",
  noiseHigh: "#2f4f4f", noiseLow: "#c8c8c8",
  nlHigh: "#ff0000", nlLow: "#ffd700"
};
const grid = "#e3e3e3";
const axisColor = "#444";
const textColor = "#262626";

const diamond = (w, h) => `M0,${-h}L${w},0L0,${h}L${-w},0Z`;

// ---------------------------------------------
// DRAW
// ---------------------------------------------
const svg = d3.select("#chart");
svg.append("rect").attr("width", 1252).attr("height", 724).attr("fill", "#fff");

function styleAxis(sel) {
  sel.select(".domain").attr("stroke", axisColor);
  sel.selectAll(".tick line").attr("stroke", axisColor);
  sel.selectAll(".tick text")
    .attr("fill", "#404040")
    .style("font-size", "13.5px")
    .style("font-family", "'Liberation Sans', Arial, sans-serif");
}

panels.forEach((p, i) => {
  const L = layout[i];
  const x = d3.scaleLinear().domain(L.xDomain).range([L.left, L.right]);
  const y = d3.scaleLinear().domain([-120, -20]).range([L.bottom, L.top]);
  const g = svg.append("g");

  const clipId = "clip" + i;
  svg.append("clipPath").attr("id", clipId).append("rect")
    .attr("x", L.left).attr("y", L.top)
    .attr("width", L.right - L.left).attr("height", L.bottom - L.top);

  // grid lines
  g.append("g").selectAll("line").data(p.xTicks).join("line")
    .attr("x1", d => x(d)).attr("x2", d => x(d))
    .attr("y1", L.top).attr("y2", L.bottom)
    .attr("stroke", grid);
  g.append("g").selectAll("line").data(yTicks).join("line")
    .attr("x1", L.left).attr("x2", L.right)
    .attr("y1", d => y(d)).attr("y2", d => y(d))
    .attr("stroke", grid);

  const plot = g.append("g").attr("clip-path", `url(#${clipId})`);
  const line = d3.line().curve(d3.curveMonotoneX).x(d => x(d[0])).y(d => y(d[1]));

  plot.append("path").datum(p.frfHigh).attr("d", line)
    .attr("fill", "none").attr("stroke", colors.frfHigh)
    .attr("stroke-width", 7.5).attr("stroke-linejoin", "round").attr("stroke-linecap", "round");
  plot.append("path").datum(p.frfLow).attr("d", line)
    .attr("fill", "none").attr("stroke", colors.frfLow)
    .attr("stroke-width", 2.7).attr("stroke-linejoin", "round");

  const pts = sets => sets.flatMap(([freq, vals]) =>
    freq.map((f, k) => [f, vals[k]]).filter(d => d[1] != null));

  function dots(sets, color) {
    plot.append("g").selectAll("circle").data(pts(sets)).join("circle")
      .attr("cx", d => x(d[0])).attr("cy", d => y(d[1]))
      .attr("r", 3).attr("fill", color);
  }
  function diamonds(sets, color) {
    plot.append("g").selectAll("path").data(pts(sets)).join("path")
      .attr("d", diamond(3.4, 4.3))
      .attr("transform", d => `translate(${x(d[0])},${y(d[1])})`)
      .attr("fill", color);
  }
  dots(p.noiseHigh, colors.noiseHigh);
  dots(p.noiseLow, colors.noiseLow);
  diamonds(p.nlHigh, colors.nlHigh);
  diamonds(p.nlLow, colors.nlLow);

  // axes
  g.append("g").attr("transform", `translate(0,${L.bottom})`)
    .call(d3.axisBottom(x).tickValues(p.xTicks).tickSizeInner(-4).tickSizeOuter(0)
      .tickPadding(11).tickFormat(d => String(d)))
    .call(styleAxis);
  g.append("g").attr("transform", `translate(${L.left},0)`)
    .call(d3.axisLeft(y).tickValues(yTicks).tickSizeInner(-4).tickSizeOuter(0)
      .tickPadding(6).tickFormat(d => String(d)))
    .call(styleAxis);

  // texts
  g.append("text")
    .attr("x", (L.left + L.right) / 2).attr("y", L.titleY)
    .attr("text-anchor", "middle")
    .attr("fill", "#000").style("font-size", "15px").style("font-weight", "bold")
    .text(p.title);
  g.append("text")
    .attr("x", (L.left + L.right) / 2).attr("y", L.xLabelY)
    .attr("text-anchor", "middle")
    .attr("fill", textColor).style("font-size", "15px")
    .text("Frequency (Hz)");
  g.append("text")
    .attr("transform", `translate(${L.yLabelX},${(L.top + L.bottom) / 2}) rotate(-90)`)
    .attr("text-anchor", "middle").attr("dy", "0.35em")
    .attr("fill", textColor).style("font-size", "15px")
    .text("Amplitude (dB)");
});

// ---------------------------------------------
// LEGEND
// ---------------------------------------------
const legend = svg.append("g").attr("transform", "translate(535,310)");
legend.append("rect").attr("width", 171).attr("height", 94)
  .attr("fill", "#fff").attr("stroke", "#9a9a9a").attr("stroke-width", 1);

const legendKeys = ["frfHigh", "frfLow", "noiseHigh", "noiseLow", "nlHigh", "nlLow"];
legendKeys.forEach((k, i) => {
  const cy = 10 + i * 14.8;
  const row = legend.append("g").attr("transform", `translate(0,${cy})`);
  if (k === "frfHigh") {
    row.append("rect").attr("x", 5).attr("y", -3.5).attr("width", 32).attr("height", 7).attr("fill", colors[k]);
  } else if (k === "frfLow") {
    row.append("line").attr("x1", 5).attr("x2", 37).attr("stroke", colors[k]).attr("stroke-width", 2);
  } else if (k.startsWith("noise")) {
    row.append("circle").attr("cx", 21).attr("r", 2.5).attr("fill", colors[k]);
  } else {
    row.append("path").attr("d", diamond(2.8, 3.6)).attr("transform", "translate(21,0)").attr("fill", colors[k]);
  }
  row.append("text").attr("x", 40).attr("dy", "0.35em")
    .attr("fill", textColor).style("font-size", "10.5px")
    .text(legendLabels[i]);
});
</script>
</body>
</html>
